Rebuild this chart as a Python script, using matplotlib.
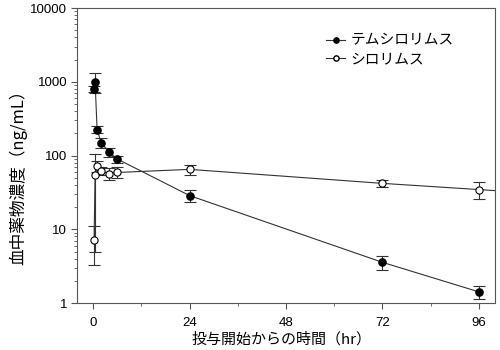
import numpy as np
import matplotlib
matplotlib.use("Agg")
import matplotlib.pyplot as plt
from matplotlib.ticker import LogLocator, FixedLocator, NullFormatter

plt.rcParams['font.family'] = ['Liberation Sans', 'Noto Sans CJK JP', 'DejaVu Sans']

# Data
times = [0.25, 0.5, 1, 2, 4, 6, 24, 72, 96]
tem_mean = [800, 1000, 225, 150, 111, 90, 28.7, 3.57, 1.42]
tem_sd = [80, 300, 25, 25, 15, 10, 5.5, 0.8, 0.3]
sir_mean = [7.2, 55, 72, 62, 57, 59, 65, 42, 34.6]
sir_sd = [3.9, 50, 12, 8, 10, 10, 10, 5, 9]

x_ticks = [0, 24, 48, 72, 96]
x_minor = [12, 36, 60, 84]
y_ticks = [1, 10, 100, 1000, 10000]
labels = ['テムシロリムス', 'シロリムス']

fig = plt.figure(figsize=(5, 3.5), dpi=100)
ax = fig.add_axes((0.154, 0.134, 0.836, 0.843))

xmax = 100
line_col = '#333333'

# sirolimus line keeps going to the right edge (extend last segment in log space)
slope = (np.log10(sir_mean[-1]) - np.log10(sir_mean[-2])) / (times[-1] - times[-2])
sir_end = 10 ** (np.log10(sir_mean[-1]) + slope * (xmax - times[-1]))
ax.plot(times + [xmax], sir_mean + [sir_end], color=line_col, lw=0.8, zorder=2)
ax.plot(times, tem_mean, color=line_col, lw=0.8, zorder=2)

ax.errorbar(times, sir_mean, yerr=sir_sd, fmt='o', color='black', mfc='white',
            mec='black', ms=5.2, mew=0.8, ecolor=line_col, elinewidth=0.8,
            capsize=4, capthick=0.8, zorder=3)
ax.errorbar(times, tem_mean, yerr=tem_sd, fmt='o', color='black', mfc='black',
            ms=5.2, ecolor=line_col, elinewidth=0.8, capsize=4, capthick=0.8,
            zorder=4)

# legend handles
h1, = ax.plot([], [], '-o', color=line_col, mfc='black', mec='black', ms=3.8, lw=0.8)
h2, = ax.plot([], [], '-o', color=line_col, mfc='white', mec='black', ms=3.8, lw=0.8)
leg = ax.legend([h1, h2], labels, loc='upper left', bbox_to_anchor=(0.563, 0.958),
                frameon=False, handlelength=1.35, handletextpad=0.35,
                labelspacing=0.3, prop={'family': 'Noto Sans CJK JP', 'size': 10.6})

ax.set_yscale('log')
ax.set_ylim(1, 10000)
ax.set_xlim(-4, xmax)
ax.set_yticks(y_ticks)
ax.set_yticklabels([str(v) for v in y_ticks])
ax.yaxis.set_minor_locator(LogLocator(base=10, subs=np.arange(2, 10)))
ax.yaxis.set_minor_formatter(NullFormatter())
ax.set_xticks(x_ticks)
ax.xaxis.set_minor_locator(FixedLocator(x_minor))

for s in ax.spines.values():
    s.set_color('#555555')
    s.set_linewidth(0.8)
ax.tick_params(which='major', direction='out', length=4, width=0.8,
               color='#555555', labelsize=9.5, pad=3)
ax.tick_params(which='minor', direction='out', length=2.5, width=0.6,
               color='#555555')
ax.tick_params(axis='x', pad=6)

ax.set_xlabel('投与開始からの時間（hr）', family='Noto Sans CJK JP', fontsize=10.8)
ax.set_ylabel('血中薬物濃度（ng/mL）', family='Noto Sans CJK JP', fontsize=12)
ax.xaxis.set_label_coords(0.49, -0.1)
ax.yaxis.set_label_coords(-0.12, 0.44)

fig.savefig('out.png', dpi=100)
